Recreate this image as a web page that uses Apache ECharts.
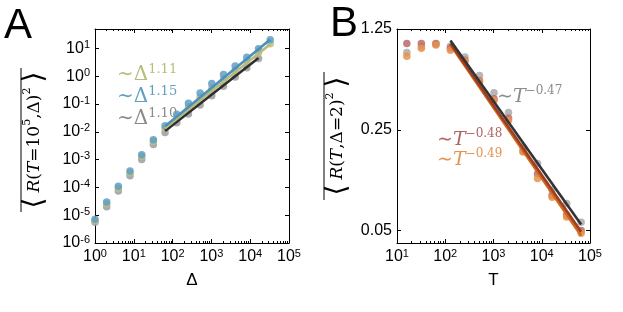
<!DOCTYPE html>
<html><head><meta charset="utf-8">
<script src="https://cdn.jsdelivr.net/npm/echarts@6/dist/echarts.min.js"></script>
<style>html,body{margin:0;padding:0;background:#fff}#c{width:623px;height:312px}</style>
</head><body><div id="c"></div>
<script>
// ---------- Panel A data ----------
const deltaValues = [1,2,4,8,16,32,64,128,256,512,1024,2048,4096,8192,16384,32768];
const blueA  = [7.1e-6,3.0e-5,1.1e-4,3.9e-4,1.5e-3,5.2e-3,0.0166,0.043,0.107,0.25,0.55,1.15,2.34,4.8,9.8,20.4];
const oliveA = [6.3e-6,2.6e-5,9.3e-5,3.4e-4,1.32e-3,4.5e-3,0.0132,0.034,0.079,0.174,0.37,0.79,1.66,3.55,7.2,14.8];
const grayA  = [5.6e-6,2.0e-5,7.4e-5,2.6e-4,1.0e-3,3.5e-3,9.5e-3,0.021,0.044,0.093,0.20,0.44,0.93,2.0,4.3];
const blueFitA  = [[64,0.0158],[32768,20.9]];
const oliveFitA = [[64,0.0135],[32768,14.1]];
const grayFitA  = [[64,0.0107],[16384,4.5]];
const xTicksA = [1,10,100,1000,10000,100000];
const yTicksA = [1e-6,1e-5,1e-4,1e-3,1e-2,1e-1,1,10];
// ---------- Panel B data ----------
const tValues = [16,32,64,128,256,512,1024,2048,4096,8192,16384,32768,65536];
const grayB   = [0.86,0.94,0.98,0.95,0.80,0.594,0.451,0.33,0.19,0.146,0.096,0.077,0.057];
const redB    = [0.99,0.99,0.99,0.92,0.76,0.548,0.41,0.30,0.178,0.124,0.088,0.064,0.050];
const orangeB = [0.81,0.92,0.97,0.89,0.75,0.54,0.40,0.29,0.175,0.115,0.085,0.062,0.048];
const grayFitB   = [[128,1.04],[65536,0.055]];
const redFitB    = [[128,0.99],[65536,0.049]];
const orangeFitB = [[128,0.97],[65536,0.046]];
const xTicksB = [10,100,1000,10000,100000];
const yTicksB = [0.05,0.25,1.25];

function minorTicks(lo, hi){ // 2..9 multiples in each decade
  const out=[]; for(let d=lo; d<hi; d*=10){ for(let m=2;m<=9;m++) out.push(+(m*d).toPrecision(3)); } return out;
}
const pair = (xs, ys) => ys.map((v,i)=>[xs[i],v]);

const FONT = 'Liberation Sans';
const SERIF = 'DejaVu Serif';
const powFmt = v => '10{s|' + Math.round(Math.log10(v)) + '}';
const powRich = { s:{fontSize:11, fontFamily:FONT, color:'#000', verticalAlign:'top', lineHeight:10} };

function xAxes(grid, min, max, major, minor, name){
  const base = {type:'log', gridIndex:grid, min, max, logBase:10, splitLine:{show:false}};
  return [
    Object.assign({}, base, {position:'bottom', name, nameLocation:'middle', nameGap:29,
      nameTextStyle:{fontFamily:FONT, fontSize:17, color:'#000'},
      axisLine:{show:true, lineStyle:{color:'#000', width:1}},
      axisTick:{show:true, inside:true, length:4, customValues:major, lineStyle:{color:'#000'}},
      axisLabel:{show:true, customValues:major, formatter:powFmt, fontFamily:FONT, fontSize:16, color:'#000', margin:5, lineHeight:18, rich:powRich}}),
    Object.assign({}, base, {position:'bottom', axisLine:{show:false},
      axisTick:{show:true, inside:true, length:2, customValues:minor, lineStyle:{color:'#000'}}, axisLabel:{show:false}}),
    Object.assign({}, base, {position:'top', axisLine:{show:true, lineStyle:{color:'#000', width:1}},
      axisTick:{show:true, inside:true, length:4, customValues:major, lineStyle:{color:'#000'}}, axisLabel:{show:false}}),
    Object.assign({}, base, {position:'top', axisLine:{show:false},
      axisTick:{show:true, inside:true, length:2, customValues:minor, lineStyle:{color:'#000'}}, axisLabel:{show:false}})
  ];
}
function yAxes(grid, min, max, ticks, fmt, rich){
  const base = {type:'log', gridIndex:grid, min, max, logBase:10, splitLine:{show:false}};
  return [
    Object.assign({}, base, {position:'left',
      axisLine:{show:true, lineStyle:{color:'#000', width:1}},
      axisTick:{show:true, inside:true, length:4, customValues:ticks, lineStyle:{color:'#000'}},
      axisLabel:{show:true, customValues:ticks, formatter:fmt, fontFamily:FONT, fontSize:16, color:'#000', margin:5, lineHeight:18, rich:rich}}),
    Object.assign({}, base, {position:'right',
      axisLine:{show:true, lineStyle:{color:'#000', width:1}},
      axisTick:{show:true, inside:true, length:4, customValues:ticks, lineStyle:{color:'#000'}}, axisLabel:{show:false}})
  ];
}

const sc = (name, data, color, xi, yi, z) => ({type:'scatter', name, data, xAxisIndex:xi, yAxisIndex:yi,
  symbolSize:7.5, itemStyle:{color, opacity:0.85}, z:z||2, clip:true});
const ln = (name, data, color, xi, yi, z) => ({type:'line', name, data, xAxisIndex:xi, yAxisIndex:yi,
  showSymbol:false, symbol:'none', lineStyle:{color, width:2.6}, z:z||3, silent:true});

const labRich = {a:{fontFamily:SERIF, fontSize:28, fill:'#000', lineHeight:26, padding:[0,5,0,5]},
            i:{fontFamily:SERIF, fontStyle:'italic', fontSize:17, fill:'#000', lineHeight:26},
            n:{fontFamily:SERIF, fontSize:17, fill:'#000', lineHeight:26},
            s:{fontFamily:SERIF, fontSize:11, fill:'#000', lineHeight:12, verticalAlign:'top'}};
function annA(x, y, txt, color){
  return {type:'text', x, y, style:{text:'{t|∼Δ}{s|'+txt+'}', verticalAlign:'middle',
    rich:{t:{fontFamily:SERIF, fontSize:20, fill:color, lineHeight:24}, s:{fontFamily:SERIF, fontSize:13, fill:color, lineHeight:12, verticalAlign:'top'}}}};
}
function annB(x, y, txt, color){
  return {type:'text', x, y, style:{text:'{t|∼}{i|T}{s|'+txt+'}', verticalAlign:'middle',
    rich:{t:{fontFamily:SERIF, fontSize:19, fill:color, lineHeight:24}, i:{fontFamily:SERIF, fontStyle:'italic', fontSize:19, fill:color, lineHeight:24}, s:{fontFamily:SERIF, fontSize:12, fill:color, lineHeight:12, verticalAlign:'top'}}}};
}

const option = {
  animation:false,
  backgroundColor:'#fff',
  grid:[
    {left:95, top:29, width:194, height:214, show:false},
    {left:397, top:29, width:193, height:214, show:false}
  ],
  xAxis: [].concat(
    xAxes(0, 1, 100000, xTicksA, minorTicks(1,100000), 'Δ'),
    xAxes(1, 10, 100000, xTicksB, minorTicks(10,100000), 'T')
  ),
  yAxis: [].concat(
    yAxes(0, 1e-6, 50, yTicksA, powFmt, powRich),
    yAxes(1, 0.041, 1.25, yTicksB, v => v.toFixed(2), {})
  ),
  series:[
    sc('A gray', pair(deltaValues, grayA), '#9c9c9c', 0, 0, 2),
    sc('A olive', pair(deltaValues, oliveA), '#b9c083', 0, 0, 2),
    sc('A blue', pair(deltaValues, blueA), '#5f9fc4', 0, 0, 2),
    ln('A gray fit', grayFitA, '#2e2e2e', 0, 0, 3),
    ln('A olive fit', oliveFitA, '#b7bb7c', 0, 0, 4),
    ln('A blue fit', blueFitA, '#4b8fbd', 0, 0, 5),
    sc('B gray', pair(tValues, grayB), '#aaaaaa', 4, 2, 2),
    sc('B red', pair(tValues, redB), '#b86a68', 4, 2, 2),
    sc('B orange', pair(tValues, orangeB), '#e8924c', 4, 2, 2),
    ln('B orange fit', orangeFitB, '#d06a1c', 4, 2, 3),
    ln('B red fit', redFitB, '#a03c24', 4, 2, 4),
    ln('B gray fit', grayFitB, '#333333', 4, 2, 5)
  ],
  graphic:[
    {type:'text', x:4, y:26, style:{text:'A', fontFamily:FONT, fontSize:42, fill:'#000', verticalAlign:'middle'}},
    {type:'text', x:330, y:24, style:{text:'B', fontFamily:FONT, fontSize:42, fill:'#000', verticalAlign:'middle'}},
    // y-axis titles (rotated)
    {type:'text', x:35, y:140, rotation:Math.PI/2, style:{
      text:'{a|⟨}{i|R}{n|(}{i|T}{n|=10}{s|5}{n|,Δ)}{s|2}{a|⟩}', align:'center', verticalAlign:'middle', rich:labRich}},
    {type:'line', shape:{x1:21, y1:68, x2:21, y2:212}, style:{stroke:'#000', lineWidth:1}},
    {type:'text', x:338, y:136, rotation:Math.PI/2, style:{
      text:'{a|⟨}{i|R}{n|(}{i|T}{n|,Δ=2)}{s|2}{a|⟩}', align:'center', verticalAlign:'middle', rich:labRich}},
    {type:'line', shape:{x1:324, y1:72, x2:324, y2:200}, style:{stroke:'#000', lineWidth:1}},
    // fit annotations, panel A
    annA(117, 75, '1.11', '#b7bd7e'),
    annA(117, 97, '1.15', '#5f9fc4'),
    annA(117, 119, '1.10', '#8a8a8a'),
    // fit annotations, panel B
    annB(497, 97, '−0.47', '#8c8c8c'),
    annB(437, 140, '−0.48', '#b06462'),
    annB(437, 160, '−0.49', '#e8924c')
  ]
};
const chart = echarts.init(document.getElementById('c'), null, {renderer:'canvas'});
chart.setOption(option);
</script>
</body></html>
